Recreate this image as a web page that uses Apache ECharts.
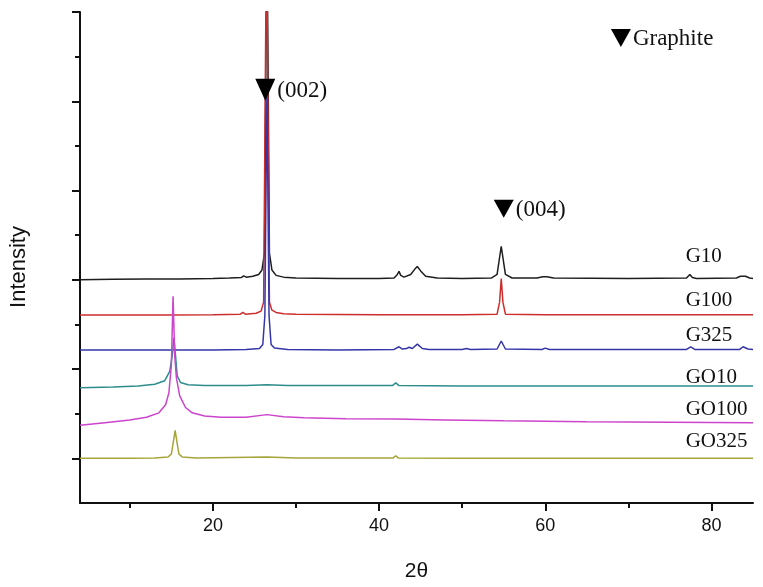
<!DOCTYPE html>
<html>
<head>
<meta charset="utf-8">
<script src="https://cdn.jsdelivr.net/npm/echarts@6/dist/echarts.min.js"></script>
<style>
html,body{margin:0;padding:0;background:#fff;}
#c{width:763px;height:587px;}
</style>
</head>
<body>
<div id="c"></div>
<script>
// ---- data (2θ, stacked intensity offsets) ----
const seriesNames = ['G10', 'G100', 'G325', 'GO10', 'GO100', 'GO325'];
const seriesColors = ['#1e1e1e', '#cc2e2e', '#3535a8', '#2f8c8c', '#cc44cc', '#a5a53a'];

const g10 = [[4,5.0],[8,5.01],[12,5.02],[16,5.02],[20,5.03],[22,5.04],[23.4,5.05],[23.7,5.09],[24.0,5.06],[24.8,5.08],[25.5,5.12],[25.9,5.22],[26.2,5.6],[26.5,13],[26.8,5.6],[27.1,5.22],[27.6,5.1],[28.5,5.06],[30,5.04],[35,5.03],[40,5.03],[41.8,5.04],[42.2,5.12],[42.4,5.19],[42.6,5.1],[43.0,5.06],[43.8,5.12],[44.3,5.24],[44.6,5.30],[45.0,5.2],[45.6,5.08],[47,5.04],[50,5.03],[53.5,5.04],[54.2,5.12],[54.5,5.5],[54.7,5.75],[54.9,5.5],[55.2,5.12],[56,5.04],[59,5.04],[59.7,5.07],[60.2,5.07],[61,5.04],[70,5.03],[77,5.04],[77.4,5.12],[77.7,5.05],[78.2,5.03],[83,5.04],[83.5,5.08],[84.1,5.08],[84.6,5.04],[85,5.03]];

const g100 = [[4,4.21],[10,4.21],[15,4.21],[20,4.22],[23.3,4.23],[23.6,4.27],[23.9,4.23],[25.2,4.25],[25.8,4.3],[26.1,4.5],[26.45,13],[26.8,4.5],[27.1,4.32],[27.6,4.27],[28.5,4.24],[30,4.23],[40,4.22],[50,4.22],[54.2,4.23],[54.5,4.5],[54.7,5.03],[54.9,4.5],[55.2,4.23],[60,4.22],[70,4.22],[85,4.22]];

const g325 = [[4,3.43],[10,3.43],[15,3.43],[20,3.43],[24,3.44],[25.6,3.46],[26.0,3.55],[26.25,4.2],[26.5,9.3],[26.75,4.2],[27.0,3.55],[27.4,3.47],[29,3.44],[35,3.43],[41.8,3.44],[42.4,3.5],[42.8,3.45],[43.3,3.46],[43.6,3.49],[44.0,3.46],[44.6,3.56],[45.2,3.46],[46,3.44],[50,3.44],[50.5,3.46],[51,3.44],[54.2,3.45],[54.7,3.63],[55.2,3.45],[59.6,3.44],[60,3.47],[60.5,3.44],[77,3.44],[77.5,3.5],[78,3.44],[83.4,3.44],[83.8,3.5],[84.4,3.45],[85,3.44]];

const go10 = [[4,2.58],[8,2.6],[11,2.62],[13,2.66],[14.2,2.74],[14.8,2.95],[15.1,3.3],[15.3,3.70],[15.5,3.3],[15.7,2.85],[16.1,2.7],[17,2.65],[19,2.63],[24,2.63],[26.5,2.65],[29,2.63],[35,2.63],[41.6,2.63],[42.0,2.69],[42.4,2.63],[50,2.62],[60,2.62],[85,2.62]];

const go100 = [[4,1.74],[7,1.8],[10,1.86],[12,1.92],[13.5,2.02],[14.3,2.2],[14.7,2.47],[15.0,3.1],[15.2,4.63],[15.4,3.3],[15.6,2.81],[16.0,2.4],[16.7,2.14],[17.5,2.02],[19,1.95],[21,1.92],[24,1.92],[26.5,1.98],[28.5,1.93],[31,1.91],[36,1.89],[42,1.88],[48,1.86],[55,1.84],[65,1.82],[75,1.81],[85,1.8]];

const go325 = [[4,1.0],[10,1.0],[13,1.01],[14.6,1.03],[15.0,1.1],[15.3,1.45],[15.45,1.63],[15.6,1.45],[15.9,1.1],[16.3,1.03],[18,1.01],[26.5,1.03],[30,1.01],[41.7,1.01],[42.0,1.06],[42.3,1.01],[50,1.0],[85,1.0]];

const allSeries = [g10, g100, g325, go10, go100, go325];

// ---- axis ticks ----
const xMajorTicks = [20, 40, 60, 80];
const xMinorTicks = [10, 30, 50, 70];
const yMajorTicks = [1, 3, 5, 7, 9, 11];
const yMinorTicks = [2, 4, 6, 8, 10];

// ---- annotations ----
const seriesLabelX = 76.9;
const seriesLabelY = [5.52, 4.54, 3.76, 2.81, 2.09, 1.38];
const peakMarks = ['(002)', '(004)', 'Graphite'];
const peakMarkPos = [[26.3, 9.26], [55.0, 6.59], [69.1, 10.42]];
const yTitle = 'Intensity';

const chart = echarts.init(document.getElementById('c'), null, {renderer: 'canvas'});
const axisCol = '#111';
const sansFont = 'Liberation Sans, Arial, sans-serif';
const serifFont = 'Liberation Serif, Times New Roman, serif';

const option = {
  animation: false,
  backgroundColor: '#fff',
  grid: {left: 80, right: 10, top: 12, bottom: 81},
  xAxis: [
    {
      type: 'value', min: 4, max: 85,
      axisLine: {lineStyle: {color: axisCol, width: 2}},
      axisTick: {customValues: xMajorTicks, length: 8, lineStyle: {color: axisCol, width: 2}},
      axisLabel: {customValues: xMajorTicks, fontSize: 18, fontFamily: sansFont, color: axisCol, margin: 14},
      splitLine: {show: false},
      name: '2θ', nameLocation: 'middle', nameGap: 58,
      nameTextStyle: {fontSize: 21, fontFamily: sansFont, color: axisCol}
    },
    {
      type: 'value', min: 4, max: 85, position: 'bottom',
      axisLine: {show: false},
      axisTick: {customValues: xMinorTicks, length: 5, lineStyle: {color: axisCol, width: 2}},
      axisLabel: {show: false},
      splitLine: {show: false}
    }
  ],
  yAxis: [
    {
      type: 'value', min: 0, max: 11,
      axisLine: {show: true, lineStyle: {color: axisCol, width: 2}},
      axisTick: {show: true, customValues: yMajorTicks, length: 8, lineStyle: {color: axisCol, width: 2}},
      axisLabel: {show: false},
      splitLine: {show: false}
    },
    {
      type: 'value', min: 0, max: 11, position: 'left',
      axisLine: {show: false},
      axisTick: {show: true, customValues: yMinorTicks, length: 5, lineStyle: {color: axisCol, width: 2}},
      axisLabel: {show: false},
      splitLine: {show: false}
    }
  ],
  series: allSeries.map((d, i) => ({
    name: seriesNames[i],
    type: 'line',
    data: d,
    xAxisIndex: 0, yAxisIndex: 0,
    showSymbol: false,
    symbol: 'none',
    clip: true,
    lineStyle: {color: seriesColors[i], width: 1.5},
    z: 2 + i
  }))
};
chart.setOption(option);

function px(pt) { return chart.convertToPixel({gridIndex: 0}, pt); }
const graphics = [];
graphics.push({
  type: 'text', x: 19, y: 267, rotation: Math.PI / 2, z: 20,
  style: {text: yTitle, font: '22px ' + sansFont, fill: axisCol, textAlign: 'center', textVerticalAlign: 'middle'}
});
seriesNames.forEach((n, i) => {
  const p = px([seriesLabelX, seriesLabelY[i]]);
  graphics.push({
    type: 'text', x: p[0], y: p[1], z: 20,
    style: {text: n, font: '21px ' + serifFont, fill: '#111', textAlign: 'left', textVerticalAlign: 'middle'}
  });
});
peakMarks.forEach((t, i) => {
  const p = px(peakMarkPos[i]);
  const w = 10, h = i === 0 ? 11 : 9;
  graphics.push({
    type: 'polygon', z: 20,
    shape: {points: [[p[0] - w, p[1] - h], [p[0] + w, p[1] - h], [p[0], p[1] + h]]},
    style: {fill: '#000'}
  });
  graphics.push({
    type: 'text', x: p[0] + 12, y: p[1] + 1, z: 20,
    style: {text: t, font: '23px ' + serifFont, fill: '#111', textAlign: 'left', textVerticalAlign: 'middle'}
  });
});
chart.setOption({graphic: graphics});
</script>
</body>
</html>
